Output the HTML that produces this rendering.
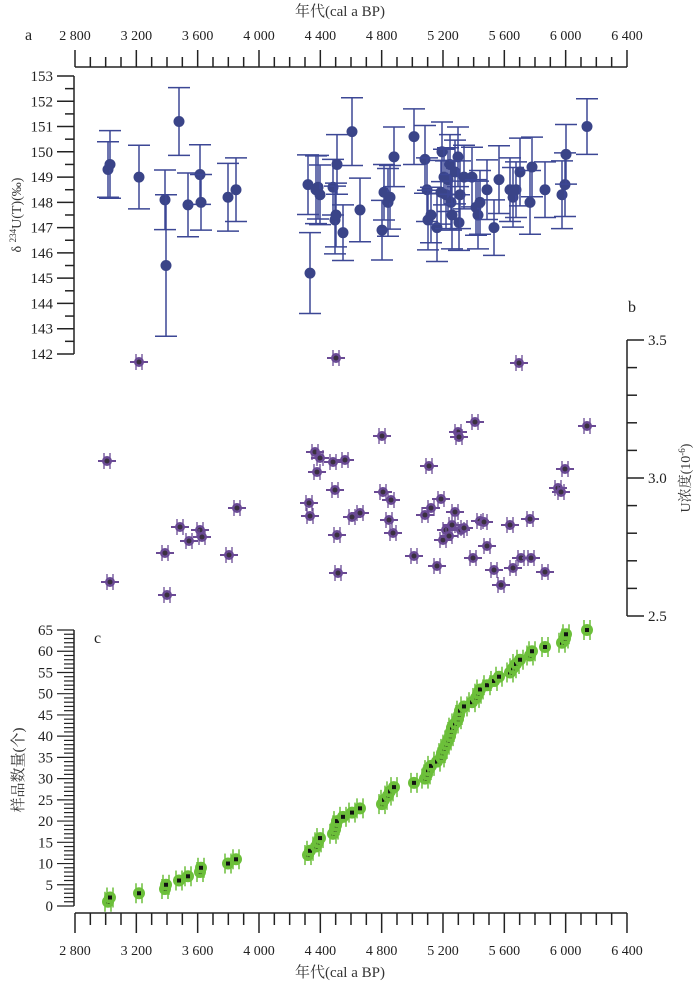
<!DOCTYPE html>
<html><head><meta charset="utf-8"><style>
body{margin:0;background:#fff}
svg{display:block;font-family:"Liberation Serif","Noto Serif CJK SC","Noto Sans CJK SC",serif}
</style></head><body>
<svg id="s" width="700" height="983" viewBox="0 0 700 983" xmlns="http://www.w3.org/2000/svg">
<text x="340" y="16" font-size="15" fill="#333" text-anchor="middle">年代(cal a BP)</text>
<text x="25" y="40" font-size="16" fill="#222">a</text>
<text x="628" y="312" font-size="16" fill="#222">b</text>
<text x="94" y="643" font-size="16" fill="#222">c</text>
<text x="340" y="977" font-size="15" fill="#333" text-anchor="middle">年代(cal a BP)</text>
<text transform="translate(21,215) rotate(-90)" font-size="14" fill="#333" text-anchor="middle">δ <tspan font-size="9" dy="-5">234</tspan><tspan dy="5">U(T)(‰)</tspan></text>
<text transform="translate(690,478) rotate(-90)" font-size="14" fill="#333" text-anchor="middle">U浓度(10<tspan font-size="9" dy="-5">-6</tspan><tspan dy="5">)</tspan></text>
<text transform="translate(23,770) rotate(-90)" font-size="15" fill="#333" text-anchor="middle">样品数量(个)</text>
<g id="g"></g>
</svg>
<script>
const g=document.getElementById('g');let h='';
const X=y=>75+(y-2800)*0.15333;
const L=(a,b,c,d,col,w)=>{h+=`<line x1="${a}" y1="${b}" x2="${c}" y2="${d}" stroke="${col||'#222'}" stroke-width="${w||1.5}"/>`};
const T=(x,y,s,a,sz)=>{h+=`<text x="${x}" y="${y}" font-size="${sz||14}" fill="#222" text-anchor="${a||'middle'}">${s}</text>`};
L(75,67,627,67);
for(let yr=2800;yr<=6400;yr+=100){const x=X(yr);const maj=yr%400==0;L(x,67,x,maj?50:57);if(maj)T(x,40,(yr/1000|0)+' '+String(yr%1000).padStart(3,'0'));}
L(75,913,627,913);
for(let yr=2800;yr<=6400;yr+=100){const x=X(yr);const maj=yr%400==0;L(x,913,x,maj?933:925);if(maj)T(x,955,(yr/1000|0)+' '+String(yr%1000).padStart(3,'0'));}
const YA=v=>76+(153-v)*25.27;
L(74,76,74,354);
for(let v=142;v<=153;v+=0.5){const y=YA(v);const maj=v%1==0;L(maj?57:65,y,74,y);if(maj)T(53,y+5,v,'end',15);}
const YB=v=>340+(3.5-v)*276;
L(627,340,627,616);
for(let i=0;i<=10;i++){const v=2.5+i*0.1;const y=YB(v);const maj=i%5==0;L(627,y,maj?644:637,y);if(maj)T(648,y+5,v.toFixed(1),'start',15);}
const YC=n=>906-n*4.246;
L(74,630,74,906);
for(let n=0;n<=65;n++){const y=YC(n);const maj=n%5==0;L(maj?57:64,y,74,y,'#222',1.2);if(maj)T(53,y+5,n,'end',15);}
const A=[[108,149.3],[110,149.5],[139,149.0],[165,148.1],[166,145.5],[179,151.2],[188,147.9],[200,149.1],[201,148.0],[228,148.2],[236,148.5],[308,148.7],[310,145.2],[316,148.5],[318,148.6],[320,148.3],[333,148.6],[335,147.3],[336,147.5],[337,149.5],[343,146.8],[352,150.8],[360,147.7],[382,146.9],[384,148.4],[388,148.0],[390,148.2],[394,149.8],[414,150.6],[425,149.7],[427,148.5],[428,147.3],[431,147.5],[437,147.0],[441,148.4],[442,150.0],[444,149.0],[446,148.3],[448,148.9],[450,149.5],[451,148.0],[452,147.5],[455,149.2],[458,149.8],[459,147.2],[460,148.3],[464,149.0],[472,149.0],[476,147.8],[478,147.5],[480,148.0],[487,148.5],[494,147.0],[499,148.9],[510,148.5],[513,148.2],[516,148.5],[520,149.2],[530,148.0],[532,149.4],[545,148.5],[562,148.3],[565,148.7],[566,149.9],[587,151.0]];
const ac='#3c4795';
A.forEach(([x,v],i)=>{const e=(i==4)?2.8:(i==12?1.6:1.1+((i*7)%4)*0.08);const y=YA(v),y1=YA(v+e),y2=YA(v-e);
L(x,y1,x,y2,ac,1.5);L(x-11,y1,x+11,y1,ac,1.5);L(x-11,y2,x+11,y2,ac,1.5);
h+=`<circle cx="${x}" cy="${y}" r="5.5" fill="#3a4488"/>`;});
const B=[[107,461],[110,582],[139,362],[165,553],[167,595],[180,527],[189,541],[200,530],[202,537],[229,555],[237,508],[309,503],[310,516],[315,452],[317,472],[320,458],[333,462],[335,490],[336,358],[337,535],[338,573],[345,460],[352,517],[360,513],[382,436],[383,492],[389,520],[391,500],[393,533],[414,556],[425,515],[429,466],[431,508],[437,566],[441,499],[443,540],[446,530],[449,536],[452,525],[455,512],[458,432],[459,437],[461,530],[464,528],[473,558],[475,422],[480,521],[484,522],[487,546],[494,570],[501,585],[510,525],[513,568],[519,363],[521,558],[530,519],[531,558],[545,572],[558,488],[561,492],[565,469],[587,426]];
const bc='#6a4a95';
B.forEach(([x,y])=>{L(x-9,y,x+9,y,bc,2);L(x-3,y-8,x-3,y+8,bc,1.3);L(x+3,y-8,x+3,y+8,bc,1.3);
h+=`<circle cx="${x}" cy="${y}" r="5" fill="${bc}"/><circle cx="${x}" cy="${y}" r="2.5" fill="#3a3040"/>`;});
const xs=A.map(a=>a[0]).sort((a,b)=>a-b);
xs.forEach((x,i)=>{const n=i+1;const y=YC(n);const gc='#6cbf3a';
L(x-3,y-10,x-3,y+10,gc,1.5);L(x+3,y-10,x+3,y+10,gc,1.5);
h+=`<circle cx="${x}" cy="${y}" r="6" fill="${gc}"/><rect x="${x-2}" y="${y-2}" width="4" height="4" fill="#111"/>`;});
g.innerHTML=h;
</script>
</body></html>
